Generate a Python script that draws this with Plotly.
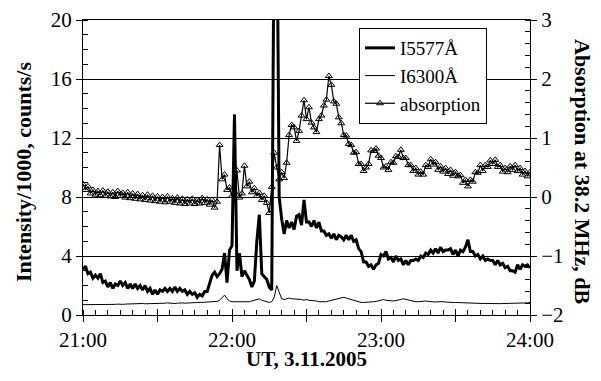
import plotly.graph_objects as go

# minutes after 21:00 UT
TIME_MIN = list(range(0, 181))
HOUR_TICK_VALS = [0, 30, 60, 90, 120, 150, 180]
HOUR_TICK_TEXT = ["21:00", "", "22:00", "", "23:00", "", "24:00"]

# I5577 intensity / 1000, counts/s
I5577 = [
    3.1, 3.3, 2.8, 2.9, 2.5, 2.7, 2.5, 2.8, 2.2, 2.3,
    1.9, 2.2, 1.8, 2.1, 2.0, 2.3, 2.0, 2.2, 1.8, 2.1,
    1.8, 2.1, 1.8, 2.0, 1.7, 2.0, 1.6, 1.8, 1.4, 1.7,
    1.4, 1.7, 1.6, 1.8, 1.6, 1.8, 1.6, 1.9, 1.6, 1.8,
    1.6, 1.7, 1.4, 1.6, 1.4, 1.5, 1.2, 1.4, 1.3, 1.6,
    1.6, 2.1, 2.7, 2.9, 2.6, 2.8, 3.1, 4.2, 2.2, 4.4,
    4.7, 13.6, 3.0, 4.2, 2.6, 3.0, 2.7, 2.4, 1.9, 2.3,
    5.0, 6.8, 2.8, 2.6, 2.4, 1.9, 1.7, 28.0, 30.0, 8.0,
    6.5, 5.5, 6.4, 5.9, 6.3, 5.8, 6.7, 6.8, 6.1, 7.8,
    6.3, 6.3, 6.0, 6.4, 5.9, 6.3, 5.7, 5.7, 5.4, 5.5,
    5.2, 5.5, 5.1, 5.4, 5.3, 5.1, 5.4, 5.1, 5.4, 5.0,
    5.1, 4.5, 4.3, 3.6, 3.6, 3.3, 3.4, 3.1, 3.4, 3.5,
    4.1, 4.0, 4.3, 3.8, 3.9, 3.6, 4.0, 3.7, 3.8, 3.4,
    3.7, 3.4, 3.7, 3.7, 3.8, 3.7, 4.0, 3.9, 4.2, 4.1,
    4.4, 4.2, 4.5, 4.2, 4.6, 4.3, 4.4, 4.4, 4.5, 4.1,
    4.4, 4.0, 4.4, 4.3, 4.6, 5.1, 4.3, 4.3, 4.0, 4.1,
    3.8, 4.0, 3.7, 3.8, 3.7, 3.7, 3.4, 3.7, 3.4, 3.5,
    3.2, 3.3, 3.0, 3.0, 2.9, 3.4, 3.1, 3.4, 3.3, 3.4,
    3.2,
]

# I6300 intensity / 1000, counts/s
I6300 = [
    0.70, 0.70, 0.68, 0.70, 0.70, 0.72, 0.70, 0.70, 0.70, 0.70,
    0.72, 0.72, 0.70, 0.72, 0.74, 0.72, 0.72, 0.74, 0.75, 0.74,
    0.74, 0.76, 0.75, 0.76, 0.78, 0.76, 0.76, 0.78, 0.78, 0.80,
    0.80, 0.80, 0.78, 0.80, 0.82, 0.80, 0.80, 0.78, 0.80, 0.82,
    0.82, 0.80, 0.82, 0.84, 0.82, 0.84, 0.85, 0.84, 0.86, 0.86,
    0.88, 0.88, 0.90, 0.90, 0.92, 1.00, 1.20, 1.35, 1.10, 0.95,
    0.90, 0.90, 0.88, 0.86, 0.88, 0.85, 0.86, 0.90, 0.95, 1.00,
    1.05, 1.10, 1.00, 0.95, 0.90, 0.85, 0.90, 1.20, 2.00, 1.50,
    1.10, 1.05, 1.10, 1.15, 1.10, 1.10, 1.05, 1.10, 1.05, 1.00,
    1.05, 1.00, 1.00, 0.95, 0.95, 0.90, 0.90, 0.88, 0.90, 0.95,
    1.00, 1.05, 1.10, 1.15, 1.20, 1.20, 1.15, 1.10, 1.00, 0.95,
    0.90, 0.88, 0.85, 0.85, 0.85, 0.86, 0.88, 0.90, 0.92, 0.95,
    1.00, 1.05, 1.00, 0.98, 0.95, 0.95, 0.98, 1.00, 1.05, 1.10,
    1.05, 1.00, 0.95, 0.92, 0.90, 0.90, 0.92, 0.95, 0.95, 0.92,
    0.90, 0.90, 0.88, 0.90, 0.92, 0.90, 0.88, 0.86, 0.86, 0.85,
    0.85, 0.84, 0.85, 0.86, 0.85, 0.84, 0.82, 0.80, 0.80, 0.80,
    0.78, 0.78, 0.78, 0.77, 0.78, 0.78, 0.77, 0.76, 0.77, 0.78,
    0.78, 0.78, 0.79, 0.80, 0.80, 0.79, 0.80, 0.80, 0.81, 0.82,
    0.85,
]

# Absorption at 38.2 MHz, dB
ABSORPTION = [
    0.22, 0.12, 0.18, 0.06, 0.12, 0.04, 0.10, 0.03, 0.11, 0.02,
    0.09, 0.01, 0.08, 0.00, 0.10, 0.02, 0.07, -0.01, 0.08, -0.02,
    0.06, -0.03, 0.05, -0.04, 0.03, -0.05, 0.04, -0.06, 0.02, -0.07,
    0.01, -0.08, 0.00, -0.09, 0.01, -0.08, -0.02, -0.10, -0.01, -0.11,
    -0.03, -0.12, -0.04, -0.11, -0.03, -0.12, -0.05, -0.11, -0.02, -0.10,
    -0.04, -0.13, -0.05, -0.18, -0.08, 0.88, 0.30, 0.38, 0.12, 0.16,
    0.02, 0.08, 0.45, -0.01, 0.06, 0.53, 0.18, 0.26, 0.08, 0.15,
    0.02, 0.07, -0.05, 0.02, -0.10, -0.27, 0.17, 0.75, 0.50, 0.30,
    0.42, 0.32, 0.58, 1.05, 1.22, 1.18, 0.95, 1.12, 1.38, 1.64,
    1.32, 1.52, 1.26, 1.18, 1.10, 1.32, 1.38, 1.55, 1.65, 2.05,
    1.90, 1.62, 1.58, 1.35, 1.25, 1.05, 1.04, 0.90, 0.88, 0.75,
    0.76, 0.56, 0.56, 0.44, 0.50, 0.56, 0.79, 0.78, 0.82, 0.70,
    0.66, 0.50, 0.52, 0.46, 0.59, 0.58, 0.69, 0.68, 0.80, 0.66,
    0.66, 0.54, 0.54, 0.44, 0.49, 0.38, 0.43, 0.38, 0.54, 0.51,
    0.64, 0.55, 0.59, 0.46, 0.52, 0.43, 0.49, 0.39, 0.46, 0.36,
    0.42, 0.35, 0.37, 0.24, 0.29, 0.18, 0.29, 0.26, 0.42, 0.41,
    0.54, 0.44, 0.54, 0.51, 0.62, 0.56, 0.63, 0.51, 0.54, 0.43,
    0.49, 0.42, 0.52, 0.46, 0.54, 0.44, 0.49, 0.38, 0.44, 0.35,
    0.42,
]

FONT = "Liberation Serif, Times New Roman, serif"

fig = go.Figure()
fig.add_trace(go.Scatter(x=TIME_MIN, y=I5577, mode="lines", name="I5577Å",
                         line=dict(color="black", width=3)))
fig.add_trace(go.Scatter(x=TIME_MIN, y=I6300, mode="lines", name="I6300Å",
                         line=dict(color="black", width=1)))
fig.add_trace(go.Scatter(x=TIME_MIN, y=ABSORPTION, mode="lines+markers", name="absorption",
                         yaxis="y2",
                         line=dict(color="black", width=1.2),
                         marker=dict(symbol="triangle-up-open", size=6, color="black",
                                     line=dict(color="black", width=1))))
# invisible helper so major x ticks also extend inward
fig.add_trace(go.Scatter(x=[0, 180], y=[None, None], xaxis="x2", showlegend=False,
                         hoverinfo="skip", mode="lines"))

axis_common = dict(showline=True, linecolor="black", linewidth=1, zeroline=False,
                   tickcolor="black", tickwidth=1,
                   tickfont=dict(family=FONT, size=21, color="black"))

fig.update_layout(
    width=601, height=381,
    margin=dict(l=83, r=71, t=20, b=66, pad=0, autoexpand=False),
    paper_bgcolor="white", plot_bgcolor="white",
    font=dict(family=FONT, color="black"),
    xaxis=dict(range=[0, 180], tickmode="array", tickvals=HOUR_TICK_VALS,
               ticktext=HOUR_TICK_TEXT, ticks="outside", ticklen=6,
               mirror=True, showgrid=False,
               minor=dict(dtick=5, tick0=0, ticks="inside", ticklen=5,
                          tickcolor="black", showgrid=False),
               **axis_common),
    xaxis2=dict(range=[0, 180], overlaying="x", anchor="y", side="bottom",
                tickmode="array", tickvals=HOUR_TICK_VALS, ticks="inside",
                ticklen=6, tickcolor="black", showticklabels=False,
                showline=False, showgrid=False, zeroline=False),
    yaxis=dict(range=[0, 20], dtick=4, tick0=0, ticks="outside", ticklen=6,
               showgrid=True, gridcolor="black", gridwidth=1,
               minor=dict(dtick=1, ticks="inside", ticklen=5, tickcolor="black",
                          showgrid=False),
               **axis_common),
    yaxis2=dict(range=[-2, 3], dtick=1, tick0=0, overlaying="y", side="right",
                anchor="x", ticks="outside", ticklen=6, showgrid=False,
                minor=dict(dtick=0.2, ticks="inside", ticklen=5, tickcolor="black",
                           showgrid=False),
                **axis_common),
    legend=dict(x=(359 - 83) / 447, y=(315 - 28) / 295, xanchor="left", yanchor="top",
                bgcolor="white", bordercolor="black", borderwidth=1,
                font=dict(family=FONT, size=19, color="black"),
                itemwidth=30, tracegroupgap=0),
    showlegend=True,
    annotations=[
        dict(text="<b>Intensity/1000, counts/s</b>", xref="paper", yref="paper",
             x=(23 - 83) / 447, y=(315 - 172) / 295, textangle=-90, showarrow=False,
             font=dict(family=FONT, size=22, color="black"),
             xanchor="center", yanchor="middle"),
        dict(text="<b>Absorption at 38.2 MHz, dB</b>", xref="paper", yref="paper",
             x=(583 - 83) / 447, y=(315 - 172) / 295, textangle=90, showarrow=False,
             font=dict(family=FONT, size=22, color="black"),
             xanchor="center", yanchor="middle"),
        dict(text="<b>UT, 3.11.2005</b>", xref="paper", yref="paper",
             x=0.5, y=(315 - 359) / 295, showarrow=False,
             font=dict(family=FONT, size=21, color="black"),
             xanchor="center", yanchor="middle"),
    ],
)

fig.write_html("out.html", config={"displayModeBar": False},
               post_script="document.body.style.margin='0';document.body.style.padding='0';")
